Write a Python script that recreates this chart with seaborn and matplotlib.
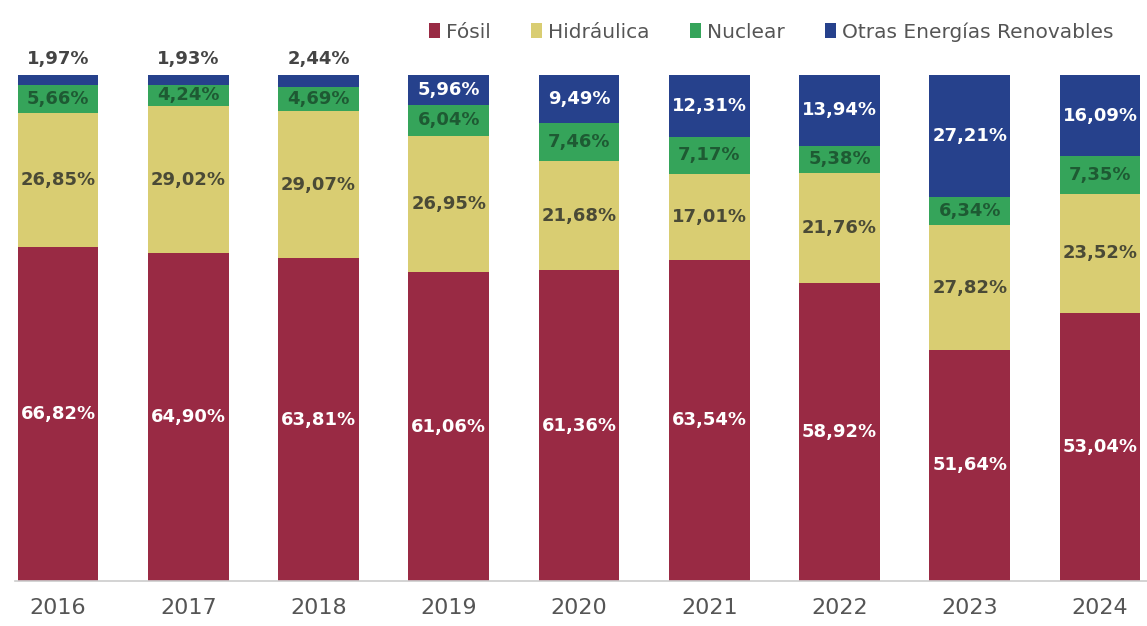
import numpy as np
import pandas as pd
import matplotlib
matplotlib.use("Agg")
import matplotlib.pyplot as plt
import seaborn as sns
from matplotlib.patches import Patch

years = ["2016", "2017", "2018", "2019", "2020", "2021", "2022", "2023", "2024"]
fosil = [66.82, 64.90, 63.81, 61.06, 61.36, 63.54, 58.92, 51.64, 53.04]
hidraulica = [26.85, 29.02, 29.07, 26.95, 21.68, 17.01, 21.76, 27.82, 23.52]
nuclear = [5.66, 4.24, 4.69, 6.04, 7.46, 7.17, 5.38, 6.34, 7.35]
otras = [1.97, 1.93, 2.44, 5.96, 9.49, 12.31, 13.94, 27.21, 16.09]

series_names = ["Fósil", "Hidráulica", "Nuclear", "Otras Energías Renovables"]
colors = ["#992A44", "#D9CD72", "#35A45A", "#26418C"]
label_colors = ["white", "#4A4A36", "#1E5A33", "white"]
label_weights = ["bold", "semibold", "semibold", "bold"]

sns.set_theme(style="white")
plt.rcParams["font.family"] = ["DejaVu Sans"]

vals = np.array([fosil, hidraulica, nuclear, otras])
totals = vals.sum(axis=0)
shares = vals / totals * 100.0
cum = np.cumsum(shares, axis=0)

fig = plt.figure(figsize=(11.47, 6.26), dpi=100)
W, H = 1147, 626
px_left, px_right = 15, 1147
ax = fig.add_axes([px_left / W, (H - 581) / H, (px_right - px_left) / W, (581 - 75) / H])

# draw cumulative layers back to front
for i in range(3, -1, -1):
    df = pd.DataFrame({"year": years, "value": cum[i]})
    sns.barplot(data=df, x="year", y="value", color=colors[i], width=0.62,
                saturation=1, ax=ax, order=years, linewidth=0, edgecolor="none")

spacing = 130.25
x0 = 58
ax.set_xlim((px_left - x0) / spacing, (px_right - x0) / spacing)
ax.set_ylim(0, 100)

# labels
for j in range(len(years)):
    for i in range(4):
        bottom = cum[i - 1][j] if i > 0 else 0
        top = cum[i][j]
        txt = f"{vals[i][j]:.2f}%".replace(".", ",")
        if i == 3 and shares[i][j] < 4:
            ax.text(j, 101.3, txt, ha="center", va="bottom", fontsize=13,
                    color="#444444", fontweight="semibold", clip_on=False)
        else:
            ax.text(j, (bottom + top) / 2, txt, ha="center", va="center",
                    fontsize=13, color=label_colors[i], fontweight=label_weights[i])

ax.set_xlabel("")
ax.set_ylabel("")
ax.set_yticks([])
ax.tick_params(axis="x", length=0, pad=12, labelsize=16, labelcolor="#555555")
for s in ["top", "right", "left"]:
    ax.spines[s].set_visible(False)
ax.spines["bottom"].set_color("#CCCCCC")
ax.spines["bottom"].set_linewidth(1.2)

handles = [Patch(facecolor=c, edgecolor="none") for c in colors]
leg = fig.legend(handles, series_names, loc="upper right", bbox_to_anchor=(1132 / W, 1 - 4 / H),
                 ncol=4, frameon=False, fontsize=14.5, handlelength=0.55, handleheight=0.75,
                 handletextpad=0.3, columnspacing=2.0, labelcolor="#555555")

fig.savefig("out.png", dpi=100)
